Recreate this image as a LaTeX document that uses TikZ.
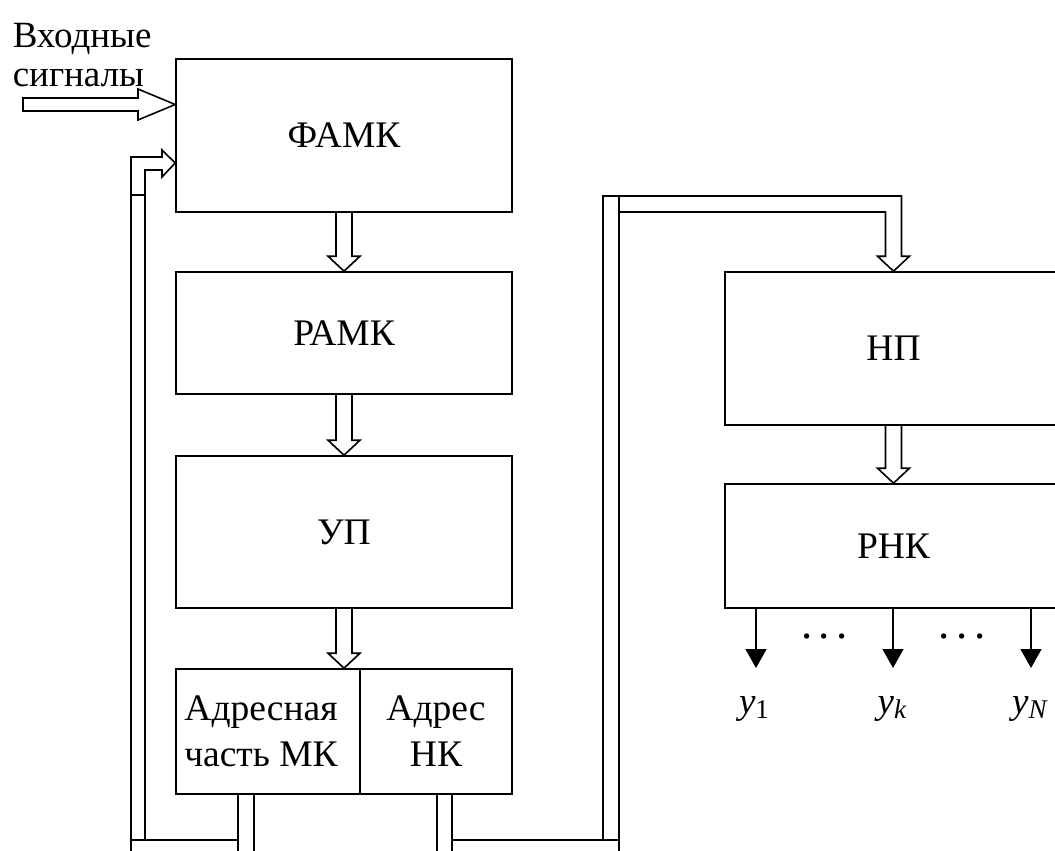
\documentclass[tikz,border=0pt]{standalone}
\usepackage{fontspec}
\setmainfont{Liberation Serif}
\usetikzlibrary{arrows.meta,calc}
% output signal label: italic y with a lowered index
\newcommand\outsig[1]{\textit{y}\raisebox{-5pt}{\fontsize{27}{27}\selectfont #1}}
\begin{document}
\begin{tikzpicture}[x=1pt,y=-1pt,
  line width=1.6pt, line join=miter,
  box/.style={draw,rectangle,inner sep=0pt,font=\fontsize{37.5}{46}\selectfont,align=center},
  outarrow/.style={-{Triangle[length=19pt,width=21pt]}},
  lbl/.style={font=\fontsize{37}{39}\selectfont,inner sep=0pt}
]
\useasboundingbox (0,0) rectangle (1055,851);
\clip (0,0) rectangle (1055,851);

% --- blocks ---
\node[box,minimum width=336pt,minimum height=153pt] (famk) at (344,135.5) {ФАМК};
\node[box,minimum width=336pt,minimum height=122pt] (ramk) at (344,333) {РАМК};
\node[box,minimum width=336pt,minimum height=152pt] (up) at (344,532) {УП};
\node[box,minimum width=184pt,minimum height=125pt] (addrL) at (268,731.5) {\hspace*{-14pt}Адресная\\\hspace*{-14pt}часть МК};
\node[box,minimum width=152pt,minimum height=125pt] (addrR) at (436,731.5) {Адрес\\НК};
\node[box,minimum width=337pt,minimum height=153pt] (np) at (893.5,348.5) {НП};
\node[box,minimum width=337pt,minimum height=124pt] (rnk) at (893.5,546) {РНК};

% --- input label and input bus ---
\node[lbl,anchor=base west] (t1) at (12,48) {Входные};
\node[lbl,anchor=base west] (t2) at (12,87) {сигналы};
\draw (23,98) -- (138,98) -- (138,89) -- (famk.west |- 0,104.5) -- (138,120) -- (138,111) -- (23,111) -- cycle;

% --- hollow bus arrows between blocks ---
\draw ($(famk.south)+(-8,0)$) |- ($(ramk.north)+(-16,-15)$) -- (ramk.north) -- ++(16,-15) -- ++(-8,0) -- ($(famk.south)+(8,0)$);
\draw ($(ramk.south)+(-8,0)$) |- ($(up.north)+(-16,-15)$) -- (up.north) -- ++(16,-15) -- ++(-8,0) -- ($(ramk.south)+(8,0)$);
\coordinate (atip) at (up.south |- addrL.north);
\draw ($(up.south)+(-8,0)$) |- ($(atip)+(-16,-15)$) -- (atip) -- ++(16,-15) -- ++(-8,0) -- ($(up.south)+(8,0)$);
\draw ($(np.south)+(-8,0)$) |- ($(rnk.north)+(-16,-15)$) -- (rnk.north) -- ++(16,-15) -- ++(-8,0) -- ($(np.south)+(8,0)$);

% --- feedback bus from the address part of the microcommand ---
\draw (addrL.south -| 238,0) -- (238,851);
\draw (addrL.south -| 254,0) -- (254,851);
\draw (131,840) -- (238,840);
\draw (145,840) -- (145,170) -- (162,170) -- (162,177) -- (famk.west |- 0,163)
      -- (162,150) -- (162,157) -- (131,157) -- (131,851);
\draw (131,195) -- (145,195);

% --- bus from the next-command address to the decoder ---
\draw (addrR.south -| 437,0) -- (437,851);
\draw (addrR.south -| 452,0) -- (452,851);
\draw (452,840) -- (619,840);
\draw (603,840) -- (603,196) -- (901.5,196) |- ($(np.north)+(16,-15)$) -- (np.north)
      -- ++(-16,-15) -- ++(8,0) |- (619,212);
\draw (619,196) -- (619,851);

% --- outputs ---
\coordinate (o1) at (756,668);
\coordinate (o2) at (893,668);
\coordinate (o3) at (1031,668);
\draw[outarrow] (rnk.south -| o1) -- (o1);
\draw[outarrow] (rnk.south -| o2) -- (o2);
\draw[outarrow] (rnk.south -| o3) -- (o3);
\node[anchor=base,inner sep=0pt,font=\fontsize{45}{45}\selectfont] (d1) at (824.5,638.5) {.\kern6.5pt.\kern6.5pt.};
\node[anchor=base,inner sep=0pt,font=\fontsize{45}{45}\selectfont] (d2) at (962,638.5) {.\kern6.5pt.\kern6.5pt.};
\node[lbl,anchor=base] (y1) at (754,713) {\outsig{1}};
\node[lbl,anchor=base] (yk) at (892,713) {\outsig{\textit{k}}};
\node[lbl,anchor=base] (yN) at (1030,713) {\outsig{\textit{N}}};
\end{tikzpicture}
\end{document}
